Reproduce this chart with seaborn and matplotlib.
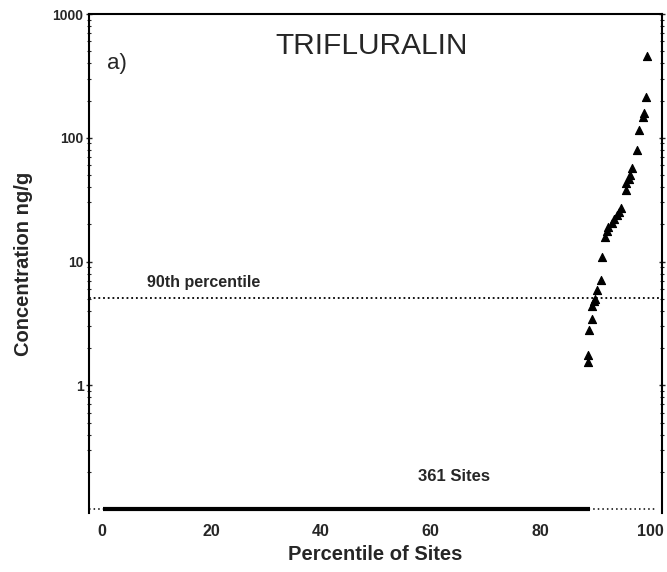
import numpy as np
import pandas as pd
import matplotlib
matplotlib.use("Agg")
import matplotlib.pyplot as plt
import seaborn as sns

# Detected concentrations (ng/g) and their site percentile
percentile = [88.7, 88.7, 88.9, 89.4, 89.5, 89.8, 90.0, 90.3, 91.0, 91.2,
              91.8, 92.1, 92.4, 93.0, 93.5, 93.9, 94.3, 94.7, 95.7, 95.7,
              96.1, 96.4, 96.8, 97.6, 98.0, 98.8, 98.9, 99.3, 99.4]
concentration = [1.55, 1.75, 2.8, 3.4, 4.4, 4.8, 5.0, 5.9, 7.1, 10.8,
                 15.7, 17.5, 19.1, 20.4, 22.0, 23.8, 25.0, 26.9, 37.8, 42.9,
                 46.0, 50.0, 56.6, 79.6, 116.0, 147.0, 159.0, 215.0, 458.0]

# Sites below detection, drawn along the floor of the plot
nondetect_range = [0.2, 89.0]
floor_value = 0.1

p90_value = 5.05
n_sites = 361
compound = "TRIFLURALIN"
panel = "a)"
x_ticks = [0, 20, 40, 60, 80, 100]
y_ticks = [1, 10, 100, 1000]
y_ticklabels = ["1", "10", "100", "1000"]

sns.set_style("ticks")
plt.rcParams["font.family"] = ["Liberation Sans", "DejaVu Sans"]

fig = plt.figure(figsize=(6.67, 5.72), dpi=100)
ax = fig.add_axes([0.1334, 0.1031, 0.8591, 0.8724])

df = pd.DataFrame({"pct": percentile, "conc": concentration})

ax.set_yscale("log")
ax.set_xlim(-2.37, 102.2)
ax.set_ylim(0.0928, 1000)

# non-detects
ax.plot([ax.get_xlim()[0], 101.3], [floor_value, floor_value], color="black",
        lw=1.1, ls=(0, (1, 2)), zorder=2, clip_on=False)
ax.plot(nondetect_range, [floor_value, floor_value], color="black",
        lw=3.0, solid_capstyle="butt", zorder=3)

# 90th percentile reference
ax.axhline(p90_value, color="black", lw=1.3, ls=(0, (1, 1.6)), zorder=2)
ax.text(8.2, 5.9, "90th percentile", fontsize=11.5, fontweight="bold",
        ha="left", va="bottom")

sns.scatterplot(data=df, x="pct", y="conc", marker="^", s=34, color="black",
                edgecolor="black", linewidth=0.8, ax=ax, zorder=4, legend=False)

ax.text(0.494, 0.935, compound, transform=ax.transAxes, fontsize=21.5,
        ha="center", va="center")
ax.text(0.032, 0.90, panel, transform=ax.transAxes, fontsize=16,
        ha="left", va="center")
ax.text(64.2, 0.182, f"{n_sites} Sites", fontsize=12, fontweight="bold",
        ha="center", va="center")

ax.set_xticks(x_ticks)
ax.set_xticklabels([str(t) for t in x_ticks], fontsize=11.5, fontweight="bold")
ax.set_yticks(y_ticks)
ax.set_yticklabels(y_ticklabels, fontsize=10, fontweight="bold")
ax.yaxis.set_minor_locator(matplotlib.ticker.LogLocator(base=10, subs=np.arange(2, 10)))
ax.yaxis.set_minor_formatter(matplotlib.ticker.NullFormatter())

ax.tick_params(axis="y", which="major", direction="inout", length=4, width=1,
               right=True, pad=2)
ax.tick_params(axis="y", which="minor", direction="inout", length=2.5, width=0.8,
               right=True)
ax.tick_params(axis="x", which="major", length=0, pad=8, top=True)

ax.set_xlabel("Percentile of Sites", fontsize=14.5, fontweight="bold", labelpad=4)
ax.set_ylabel("Concentration ng/g", fontsize=14.5, fontweight="bold", labelpad=14)

for side in ["left", "right", "top"]:
    ax.spines[side].set_linewidth(1.5)
    ax.spines[side].set_color("black")
ax.spines["bottom"].set_visible(False)
ax.grid(False)

fig.savefig("out.png", dpi=100)
